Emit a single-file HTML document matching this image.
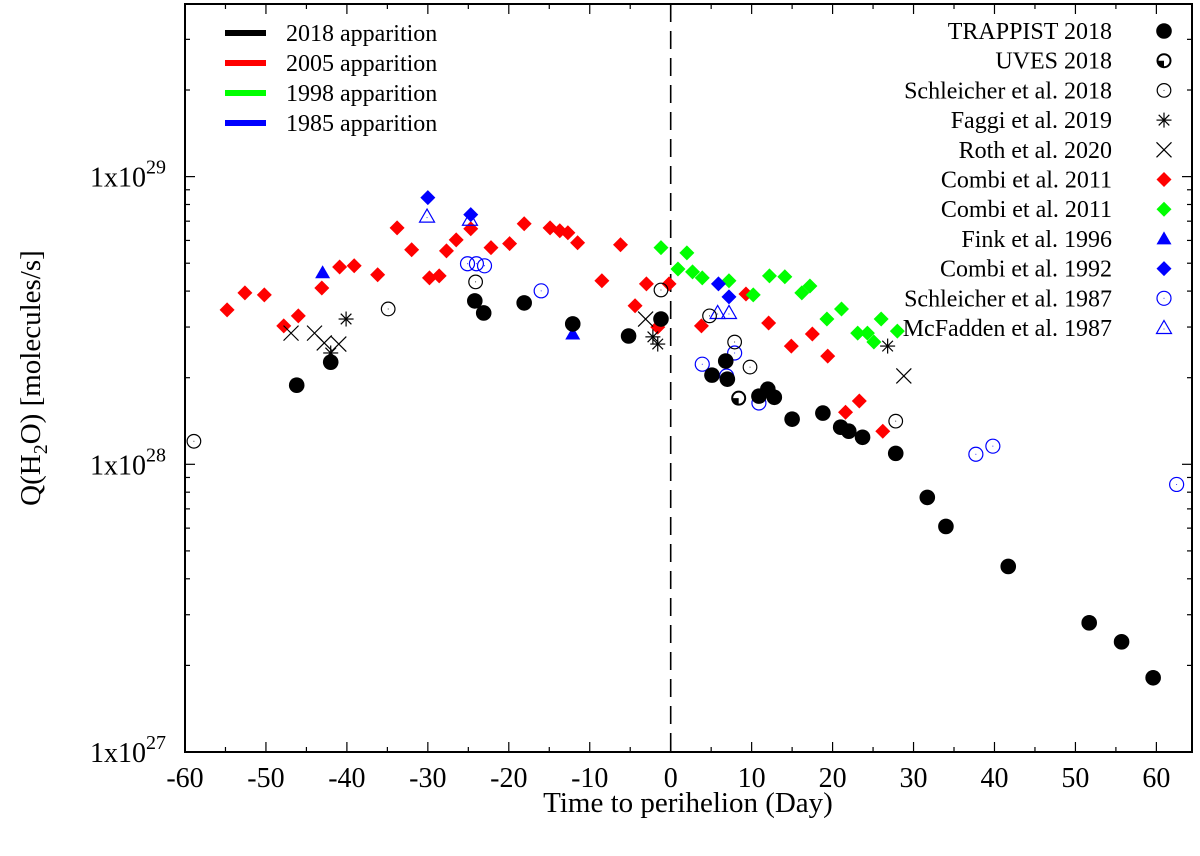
<!DOCTYPE html>
<html><head><meta charset="utf-8"><style>
html,body{margin:0;padding:0;background:#fff}
svg text{font-family:"Liberation Serif",serif;fill:#000}
</style></head><body>
<svg id="chart" width="1200" height="851" viewBox="0 0 1200 851" xmlns="http://www.w3.org/2000/svg">
<g id="axes"></g><g id="marks"></g><g id="legends"></g>
</svg>
<script>
const xTicks=[-60,-50,-40,-30,-20,-10,0,10,20,30,40,50,60];
const yDecades=[27,28,29];
// series: days to perihelion, log10 Q
const trappistDay=[-46.2,-42.0,-24.2,-23.1,-18.1,-12.1,-5.2,-1.2,5.1,6.8,7.0,10.9,12.0,12.8,15.0,18.8,21.0,22.0,23.7,27.8,31.7,34.0,41.7,51.7,55.7,59.6];
const trappistLogQ=[28.275,28.355,28.568,28.526,28.561,28.488,28.446,28.505,28.310,28.359,28.296,28.237,28.261,28.233,28.157,28.178,28.129,28.115,28.094,28.038,27.885,27.784,27.645,27.449,27.383,27.258];
const uvesDay=[8.4];
const uvesLogQ=[28.230];
const schl18Day=[-58.9,-34.9,-24.1,-1.2,4.8,7.9,9.8,27.8];
const schl18LogQ=[28.080,28.540,28.634,28.606,28.516,28.425,28.338,28.150];
const faggiDay=[-40.1,-42.0,-2.2,-1.6,26.8];
const faggiLogQ=[28.505,28.387,28.443,28.418,28.411];
const rothDay=[-46.9,-44.0,-42.8,-41.0,-3.1,28.8];
const rothLogQ=[28.456,28.456,28.422,28.418,28.505,28.307];
const combi05Day=[-54.8,-52.6,-50.2,-47.8,-46.0,-43.1,-40.9,-39.1,-36.2,-33.8,-32.0,-29.8,-28.6,-27.7,-26.5,-24.7,-22.2,-19.9,-18.1,-14.9,-13.7,-12.7,-11.5,-8.5,-6.2,-4.4,-3.0,-1.6,-0.2,3.8,9.3,12.1,14.9,17.5,19.4,21.6,23.3,26.2];
const combi05LogQ=[28.537,28.596,28.589,28.481,28.516,28.613,28.686,28.690,28.659,28.822,28.746,28.648,28.655,28.742,28.780,28.819,28.753,28.767,28.836,28.822,28.812,28.805,28.770,28.638,28.763,28.551,28.627,28.477,28.627,28.481,28.592,28.491,28.411,28.453,28.376,28.181,28.220,28.115];
const combi98Day=[-1.2,0.9,2.0,2.7,3.9,7.2,10.2,12.2,14.1,16.2,17.2,19.3,21.1,23.1,24.3,25.1,26.0,28.0];
const combi98LogQ=[28.753,28.679,28.735,28.669,28.648,28.638,28.589,28.655,28.652,28.596,28.620,28.505,28.540,28.456,28.456,28.425,28.505,28.463];
const finkDay=[-43.0,-12.1];
const finkLogQ=[28.666,28.453];
const combi92Day=[-30.0,-24.7,5.9,7.2];
const combi92LogQ=[28.927,28.868,28.627,28.582];
const schl87Day=[-25.1,-24.0,-23.0,-16.0,3.9,7.9,6.9,10.9,37.7,39.8,62.5];
const schl87LogQ=[28.697,28.697,28.690,28.603,28.348,28.387,28.307,28.213,28.035,28.063,27.930];
const mcfDay=[-30.1,-24.8,5.8,7.2];
const mcfLogQ=[28.861,28.850,28.526,28.526];

const X0=185,X1=1192,Y0=4,Y1=752;
const xmin=-60,xmax=64.4,ymin=27,ymax=29.6;
const sx=d=>X0+(d-xmin)/(xmax-xmin)*(X1-X0);
const sy=v=>Y1-(v-ymin)/(ymax-ymin)*(Y1-Y0);
const NS="http://www.w3.org/2000/svg";
function mk(tag,attrs,parent){const e=document.createElementNS(NS,tag);for(const k in attrs)e.setAttribute(k,attrs[k]);parent.appendChild(e);return e;}
const axes=document.getElementById('axes'),marks=document.getElementById('marks'),leg=document.getElementById('legends');

let fr=mk('rect',{x:X0,y:Y0,width:X1-X0,height:Y1-Y0,fill:'none',stroke:'#000','stroke-width':2},axes);


for(let v=-60;v<=64;v+=5){const x=sx(v);const L=(v%10===0)?10:5;
 mk('line',{x1:x,y1:Y1,x2:x,y2:Y1-L,stroke:'#000','stroke-width':1.2},axes);
 mk('line',{x1:x,y1:Y0,x2:x,y2:Y0+L,stroke:'#000','stroke-width':1.2},axes);}
xTicks.forEach(v=>{const t=mk('text',{x:sx(v),y:787,'font-size':28,'text-anchor':'middle'},axes);t.textContent=v;
 
 });
for(let d=27;d<=29;d++){for(let m=1;m<=9;m++){const v=d+Math.log10(m);if(v>ymax)continue;const y=sy(v);const L=m===1?10:5;
 mk('line',{x1:X0,y1:y,x2:X0+L,y2:y,stroke:'#000','stroke-width':1.2},axes);
 mk('line',{x1:X1,y1:y,x2:X1-L,y2:y,stroke:'#000','stroke-width':1.2},axes);}}
yDecades.forEach(d=>{const t=mk('text',{x:166,y:sy(d)+10,'font-size':28,'text-anchor':'end'},axes);
 
 
 const a=mk('tspan',{},t);a.textContent='1x10';const b=mk('tspan',{dy:-13,'font-size':20},t);b.textContent=d;});
let xt=mk('text',{x:688,y:812,'font-size':29,'text-anchor':'middle'},axes);xt.textContent='Time to perihelion (Day)';


let yt=mk('text',{x:0,y:0,'font-size':29,'text-anchor':'middle',transform:'translate(40,378) rotate(-90)'},axes);


{const a=mk('tspan',{},yt);a.textContent='Q(H';const b=mk('tspan',{dy:7,'font-size':20},yt);b.textContent='2';const c=mk('tspan',{dy:-7},yt);c.textContent='O) [molecules/s]';}
let pl=mk('line',{x1:sx(0),y1:Y0,x2:sx(0),y2:Y1,stroke:'#000','stroke-width':1.6,'stroke-dasharray':'18,9'},axes);



function marker(type,x,y,g){
 switch(type){
 case 'dot': mk('circle',{cx:x,cy:y,r:7.8,fill:'#000'},g);break;
 case 'half': mk('circle',{cx:x,cy:y,r:6.5,fill:'#fff',stroke:'#000','stroke-width':2},g);
   mk('path',{d:`M${x},${y} L${x-6.5},${y} A6.5,6.5 0 0 0 ${x},${y+6.5} Z`,fill:'#000'},g);break;
 case 'ocirc': mk('circle',{cx:x,cy:y,r:6.8,fill:'none',stroke:'#000','stroke-width':1.2},g);mk('circle',{cx:x,cy:y,r:0.5,fill:'#000'},g);break;
 case 'bcirc': mk('circle',{cx:x,cy:y,r:7,fill:'none',stroke:'#00f','stroke-width':1.2},g);mk('circle',{cx:x,cy:y,r:0.5,fill:'#00f'},g);break;
 case 'star': for(const a of [0,45,90,135]){const r=a*Math.PI/180;mk('line',{x1:x-7.5*Math.cos(r),y1:y-7.5*Math.sin(r),x2:x+7.5*Math.cos(r),y2:y+7.5*Math.sin(r),stroke:'#000','stroke-width':1.2},g);}break;
 case 'cross': mk('path',{d:`M${x-7.5},${y-7.5}L${x+7.5},${y+7.5}M${x-7.5},${y+7.5}L${x+7.5},${y-7.5}`,stroke:'#000','stroke-width':1.2,fill:'none'},g);break;
 case 'rdia': case 'gdia': case 'bdia': {const c=type==='rdia'?'#f00':type==='gdia'?'#0f0':'#00f';
   mk('path',{d:`M${x},${y-7.5}L${x+7.5},${y}L${x},${y+7.5}L${x-7.5},${y}Z`,fill:c},g);break;}
 case 'btri': mk('path',{d:`M${x},${y-7.5}L${x+7.5},${y+5.5}L${x-7.5},${y+5.5}Z`,fill:'#00f'},g);break;
 case 'otri': mk('path',{d:`M${x},${y-7.5}L${x+7.5},${y+5.5}L${x-7.5},${y+5.5}Z`,fill:'none',stroke:'#00f','stroke-width':1.2},g);mk('circle',{cx:x,cy:y+1,r:0.5,fill:'#00f'},g);break;
 }
}
const series=[
 ['combi-2011-2005','rdia',combi05Day,combi05LogQ,'Combi et al. 2011'],
 ['combi-2011-1998','gdia',combi98Day,combi98LogQ,'Combi et al. 2011'],
 ['schleicher-1987','bcirc',schl87Day,schl87LogQ,'Schleicher et al. 1987'],
 ['mcfadden-1987','otri',mcfDay,mcfLogQ,'McFadden et al. 1987'],
 ['fink-1996','btri',finkDay,finkLogQ,'Fink et al. 1996'],
 ['combi-1992','bdia',combi92Day,combi92LogQ,'Combi et al. 1992'],
 ['schleicher-2018','ocirc',schl18Day,schl18LogQ,'Schleicher et al. 2018'],
 ['faggi-2019','star',faggiDay,faggiLogQ,'Faggi et al. 2019'],
 ['roth-2020','cross',rothDay,rothLogQ,'Roth et al. 2020'],
 ['trappist-2018','dot',trappistDay,trappistLogQ,'TRAPPIST 2018'],
 ['uves-2018','half',uvesDay,uvesLogQ,'UVES 2018'],
];
series.forEach(s=>{const g=mk('g',{},marks);
 
 
 s[2].forEach((d,i)=>{const p=mk('g',{},g);
  
  
  marker(s[1],sx(d),sy(s[3][i]),p);});});

const legOrder=['trappist-2018','uves-2018','schleicher-2018','faggi-2019','roth-2020','combi-2011-2005','combi-2011-1998','fink-1996','combi-1992','schleicher-1987','mcfadden-1987'];
legOrder.forEach((k,i)=>{const s=series.find(q=>q[0]===k);const y=31+i*29.7;const g=mk('g',{},leg);
 
 
 const t=mk('text',{x:1112,y:y+8,'font-size':24,'text-anchor':'end'},g);t.textContent=s[4];
 marker(s[1],1164,y,g);});
const appLabels=['2018 apparition','2005 apparition','1998 apparition','1985 apparition'];
const appColors=['#000','#f00','#0f0','#00f'];
appLabels.forEach((l,i)=>{const y=33+i*30;const g=mk('g',{},leg);
 
 
 mk('line',{x1:225,y1:y,x2:266,y2:y,stroke:appColors[i],'stroke-width':6},g);
 const t=mk('text',{x:286,y:y+8,'font-size':24},g);t.textContent=l;});
</script>
</body></html>
